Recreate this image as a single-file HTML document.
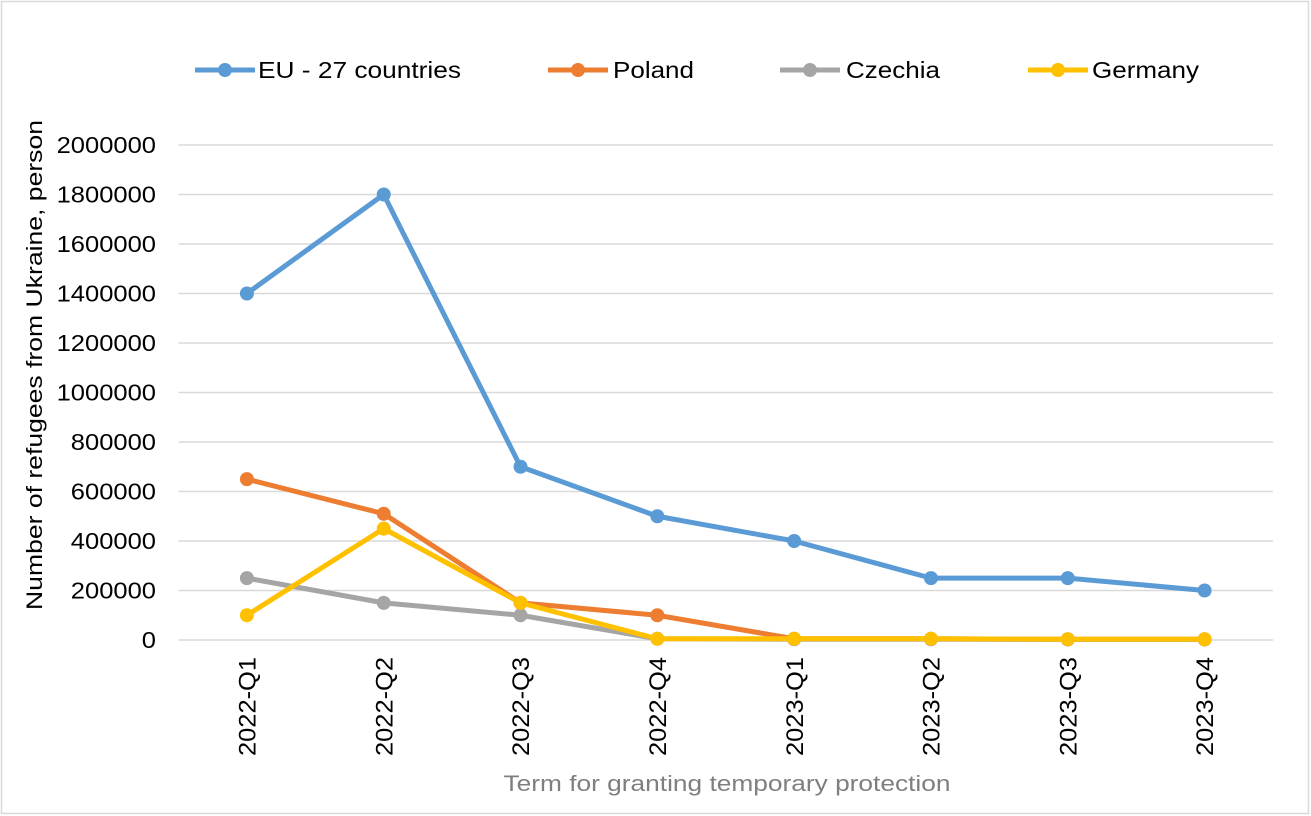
<!DOCTYPE html>
<html><head><meta charset="utf-8"><style>
html,body{margin:0;padding:0;background:#fff;}
svg{display:block;font-family:"Liberation Sans",Arial,sans-serif;}
</style></head><body>
<svg id="chart" width="1311" height="816">
<rect x="1.5" y="1.5" width="1307" height="812" fill="#fff" stroke="#d9d9d9" stroke-width="1.5"/>
<g id="grid"></g>
<g id="yticks"></g>
<g id="xticks"></g>
<g id="series"></g>
<g id="legend"></g>
<text x="42" y="365" transform="rotate(-90 42 365)" text-anchor="middle" font-size="22" fill="#000" textLength="490" lengthAdjust="spacingAndGlyphs">Number of  refugees from Ukraine, person</text>
<text x="727" y="791" text-anchor="middle" font-size="22" fill="#7f7f7f" textLength="447" lengthAdjust="spacingAndGlyphs">Term for granting temporary protection</text>
</svg>
<script>
const categories=["2022-Q1","2022-Q2","2022-Q3","2022-Q4","2023-Q1","2023-Q2","2023-Q3","2023-Q4"];
const euValues=[1400000,1800000,700000,500000,400000,250000,250000,200000];
const polandValues=[650000,510000,150000,100000,5000,5000,3000,3000];
const czechiaValues=[250000,150000,100000,5000,3000,3000,2000,2000];
const germanyValues=[100000,450000,150000,5000,5000,5000,3000,3000];
const yTicks=[0,200000,400000,600000,800000,1000000,1200000,1400000,1600000,1800000,2000000];
const seriesNames=["EU - 27 countries","Poland","Czechia","Germany"];
const NS="http://www.w3.org/2000/svg";
const L=178.5,R=1273,T=145,B=640,YMAX=2000000;
const step=(R-L)/categories.length;
const xs=i=>L+step*(i+0.5);
const ys=v=>B-(v/YMAX)*(B-T);
function mk(tag,attrs,parent){const e=document.createElementNS(NS,tag);for(const k in attrs)e.setAttribute(k,attrs[k]);parent.appendChild(e);return e;}
const grid=document.getElementById('grid'),yt=document.getElementById('yticks'),xt=document.getElementById('xticks'),sg=document.getElementById('series'),lg=document.getElementById('legend');
yTicks.forEach(v=>{
 const l=mk('line',{x1:L,x2:R,y1:ys(v),y2:ys(v),stroke:'#d9d9d9','stroke-width':1.5},grid);
 
 
 const s=String(v);
 const t=mk('text',{x:156,y:ys(v)+8,'text-anchor':'end','font-size':23,fill:'#000',textLength:s.length*14.2,lengthAdjust:'spacingAndGlyphs'},yt);
 t.textContent=s;
 
 
});
categories.forEach((c,i)=>{
 const x=xs(i),y=657;
 const t=mk('text',{x:x,y:y,transform:`rotate(-90 ${x} ${y})`,'text-anchor':'end','font-size':24,fill:'#000',dy:'0.36em',textLength:99,lengthAdjust:'spacingAndGlyphs'},xt);
 t.textContent=c;
 
 
});
const colors=["#5b9bd5","#ed7d31","#a5a5a5","#ffc000"];
const data=[euValues,polandValues,czechiaValues,germanyValues];
data.forEach((vals,s)=>{
 const g=mk('g',{},sg);
 
 
 const p=mk('polyline',{points:vals.map((v,i)=>xs(i)+','+ys(v)).join(' '),fill:'none',stroke:colors[s],'stroke-width':5,'stroke-linejoin':'round'},g);
 
 
 vals.forEach((v,i)=>{
  const c=mk('circle',{cx:xs(i),cy:ys(v),r:7,fill:colors[s]},g);
  
  
 });
});
const legX=[195,548,780,1028];
const legTextX=[258,613,846,1092];
const legTextW=[203,81,94,107];
seriesNames.forEach((n,s)=>{
 const g=mk('g',{},lg);
 
 
 mk('line',{x1:legX[s],x2:legX[s]+60,y1:70,y2:70,stroke:colors[s],'stroke-width':5},g);
 mk('circle',{cx:legX[s]+30,cy:70,r:7,fill:colors[s]},g);
 const t=mk('text',{x:legTextX[s],y:78,'font-size':23,fill:'#000',textLength:legTextW[s],lengthAdjust:'spacingAndGlyphs'},g);
 t.textContent=n;
});
</script>
</body></html>
